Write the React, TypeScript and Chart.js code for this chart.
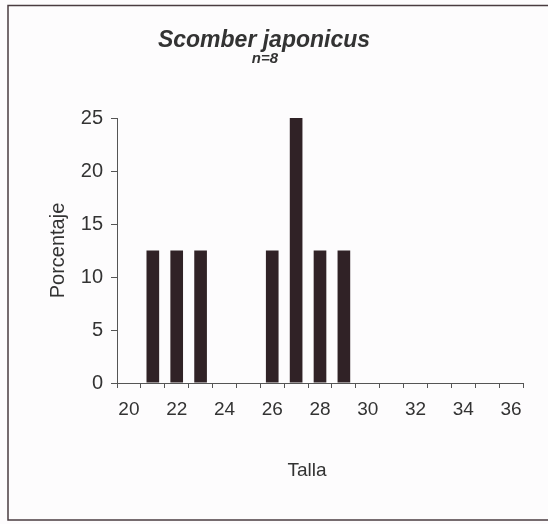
import React, { useEffect, useRef } from "react";
import { Chart, registerables } from "chart.js";

Chart.register(...registerables);

const categories = ["20", "21", "22", "23", "24", "25", "26", "27", "28", "29", "30", "31", "32", "33", "34", "35", "36"];
const porcentaje = [0, 12.5, 12.5, 12.5, 0, 0, 12.5, 25, 12.5, 12.5, 0, 0, 0, 0, 0, 0, 0];
const yTicks = [0, 5, 10, 15, 20, 25];
const titleText = "Scomber japonicus";
const subtitleText = "n=8";
const xTitle = "Talla";
const yTitle = "Porcentaje";

const FONT = "Arial, 'Liberation Sans', sans-serif";
const TEXT = "#333333";
const AXIS = "#555555";

const framePlugin = {
  id: "frameAndTitle",
  beforeDraw(chart: any) {
    const ctx = chart.ctx;
    ctx.save();
    ctx.fillStyle = "#fdfcfd";
    ctx.fillRect(0, 0, chart.width, chart.height);
    ctx.strokeStyle = "#4a3c40";
    ctx.lineWidth = 1.5;
    ctx.strokeRect(8, 5.5, 560, 514.5);
    ctx.restore();
  },
  afterDraw(chart: any) {
    const ctx = chart.ctx;
    ctx.save();
    ctx.fillStyle = TEXT;
    ctx.textAlign = "center";
    ctx.textBaseline = "alphabetic";
    ctx.font = `italic bold 23px ${FONT}`;
    ctx.fillText(titleText, 264, 47);
    ctx.font = `italic bold 15px ${FONT}`;
    ctx.fillText(subtitleText, 265, 63);
    ctx.font = `19px ${FONT}`;
    ctx.textBaseline = "middle";
    ctx.fillText(xTitle, 307, 471);
    ctx.restore();
  },
};

export default function App() {
  const ref = useRef<HTMLCanvasElement | null>(null);

  useEffect(() => {
    if (!ref.current) return;
    const chart = new Chart(ref.current, {
      type: "bar",
      data: {
        labels: categories,
        datasets: [
          {
            label: "Porcentaje",
            data: porcentaje,
            backgroundColor: "#302226",
            borderWidth: 0,
            barPercentage: 0.53,
            categoryPercentage: 1,
          },
        ],
      },
      options: {
        responsive: false,
        animation: false,
        layout: { padding: { left: 38, right: 25, top: 118, bottom: 41 } },
        plugins: {
          legend: { display: false },
          title: { display: false },
          tooltip: { enabled: false },
        },
        scales: {
          x: {
            afterFit: (s: any) => {
              s.height = 100;
            },
            grid: {
              offset: true,
              drawOnChartArea: false,
              tickLength: 5,
              color: AXIS,
            },
            border: { display: true, color: AXIS, width: 1 },
            ticks: {
              autoSkip: false,
              maxRotation: 0,
              padding: 10,
              color: TEXT,
              font: { family: FONT, size: 19 },
              callback: (_v: any, i: number) => (i % 2 === 0 ? categories[i] : ""),
            },
            title: { display: false, text: xTitle },
          },
          y: {
            min: yTicks[0],
            max: yTicks[yTicks.length - 1],
            afterFit: (s: any) => {
              s.width = 79;
            },
            afterBuildTicks: (s: any) => {
              s.ticks = yTicks.map((v) => ({ value: v }));
            },
            grid: {
              drawOnChartArea: false,
              tickLength: 6,
              color: AXIS,
            },
            border: { display: true, color: AXIS, width: 1 },
            ticks: {
              padding: 8,
              color: TEXT,
              font: { family: FONT, size: 20 },
            },
            title: {
              display: true,
              text: yTitle,
              color: TEXT,
              font: { family: FONT, size: 20 },
              padding: { top: 8, bottom: 0 },
            },
          },
        },
      },
      plugins: [framePlugin],
    });
    return () => chart.destroy();
  }, []);

  return (
    <div style={{ position: "fixed", left: 0, top: 0, width: 548, height: 524 }}>
      <canvas ref={ref} width={548} height={524} style={{ display: "block", width: 548, height: 524 }} />
    </div>
  );
}
